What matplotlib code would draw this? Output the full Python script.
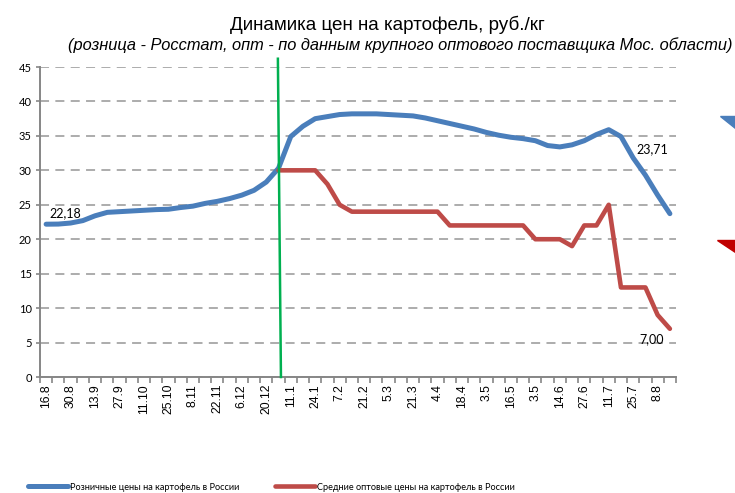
import numpy as np
import matplotlib.pyplot as plt
from matplotlib.patches import Polygon

# подписи оси X (каждая вторая неделя)
tick_labels = ['16.8', '30.8', '13.9', '27.9', '11.10', '25.10', '8.11', '22.11', '6.12', '20.12',
               '11.1', '24.1', '7.2', '21.2', '5.3', '21.3', '4.4', '18.4', '3.5', '16.5',
               '3.5', '14.6', '27.6', '11.7', '25.7', '8.8']

# розничные цены (Росстат), руб./кг
retail = [22.18, 22.2, 22.35, 22.7, 23.4, 23.9, 24.0, 24.1, 24.2, 24.3,
          24.35, 24.6, 24.8, 25.2, 25.5, 25.9, 26.4, 27.1, 28.3, 30.3,
          34.9, 36.4, 37.5, 37.8, 38.1, 38.2, 38.2, 38.2, 38.1, 38.0,
          37.9, 37.6, 37.2, 36.8, 36.4, 36.0, 35.5, 35.1, 34.8, 34.6,
          34.3, 33.6, 33.4, 33.7, 34.3, 35.2, 35.9, 34.9, 31.8, 29.3,
          26.4, 23.71]

# оптовые цены (начинаются с 19-й недели)
wholesale = [np.nan] * 19 + [30, 30, 30, 30, 28, 25, 24, 24, 24, 24,
                             24, 24, 24, 24, 22, 22, 22, 22, 22, 22,
                             22, 20, 20, 20, 19, 22, 22, 25, 13, 13,
                             13, 9, 7.0]

blue = '#4A7EBB'
red = '#BE4B48'
grid_c = '#A6A6A6'
axis_c = '#868686'

x = np.arange(len(retail))

fig = plt.figure(figsize=(7.35, 4.93), dpi=100)
ax = fig.add_axes([40 / 735, 1 - 377 / 493, 636 / 735, 310 / 493])

ax.plot(x, retail, color=blue, lw=3.6, solid_capstyle='round', solid_joinstyle='round', zorder=3,
        label='Розничные цены на картофель в России')
ax.plot(x, wholesale, color=red, lw=3.3, solid_capstyle='round', solid_joinstyle='round', zorder=3,
        label='Средние оптовые цены на картофель в России')

# зеленая линия - граница
ax.plot([19.2, 18.95], [0, 46.2], color='#00B050', lw=1.8, zorder=4, clip_on=False)

ax.set_xlim(-0.5, len(retail) - 0.5)
ax.set_ylim(0, 45)
ax.set_yticks(range(0, 50, 5))
ax.set_xticks(x[::2])
ax.set_xticklabels(tick_labels, rotation=90, fontsize=8.7, family='Liberation Sans')
ax.set_xticks(np.arange(-0.5, len(retail), 1), minor=True)
ax.tick_params(axis='x', which='major', length=0, pad=5)
ax.tick_params(axis='x', which='minor', length=4, color=axis_c, width=1.2)
ax.tick_params(axis='y', length=3, color=axis_c, width=1.2, labelsize=8, pad=3)
for t in ax.get_yticklabels():
    t.set_family('Lato')

ax.grid(axis='y', color=grid_c, ls=(0, (5, 3.5)), lw=1.3)
ax.set_axisbelow(True)
for s in ['top', 'right']:
    ax.spines[s].set_visible(False)
for s in ['left', 'bottom']:
    ax.spines[s].set_color(axis_c)
    ax.spines[s].set_linewidth(1.4)

# подписи значений
ax.annotate('{:.2f}'.format(retail[0]).replace('.', ','), (x[0], retail[0]), xytext=(1.6, 23.8),
            textcoords='data', ha='center', va='center', fontsize=9, family='Lato')
ax.annotate('{:.2f}'.format(retail[-1]).replace('.', ','), (x[-1], retail[-1]), xytext=(49.6, 33.1),
            textcoords='data', ha='center', va='center', fontsize=9, family='Lato')
ax.annotate('{:.2f}'.format(wholesale[-1]).replace('.', ','), (x[-1], wholesale[-1]), xytext=(49.5, 5.5),
            textcoords='data', ha='center', va='center', fontsize=9, family='Lato')

fig.text(0.527, 0.94, 'Динамика цен на картофель, руб./кг', ha='center', va='baseline',
         fontsize=13.6, family='Liberation Sans')
fig.text(0.544, 0.898, '(розница - Росстат, опт - по данным крупного оптового поставщика Мос. области)',
         ha='center', va='baseline', fontsize=11.8, style='italic', family='Liberation Sans')

# обрезанные маркеры справа
fig.patches.append(Polygon([(720 / 735, 1 - 116 / 493), (1, 1 - 116 / 493), (1, 1 - 128 / 493)],
                           closed=True, color=blue, transform=fig.transFigure))
fig.patches.append(Polygon([(717 / 735, 1 - 240 / 493), (1, 1 - 240 / 493), (1, 1 - 252 / 493)],
                           closed=True, color='#C00000', transform=fig.transFigure))

fig.legend(loc='center left', bbox_to_anchor=(20 / 735, 1 - 487 / 493), ncol=2, frameon=False,
           prop={'family': 'Lato', 'size': 6.6}, handlelength=4.3, handletextpad=0.25,
           columnspacing=3.9)

fig.savefig('out.png', dpi=100)
